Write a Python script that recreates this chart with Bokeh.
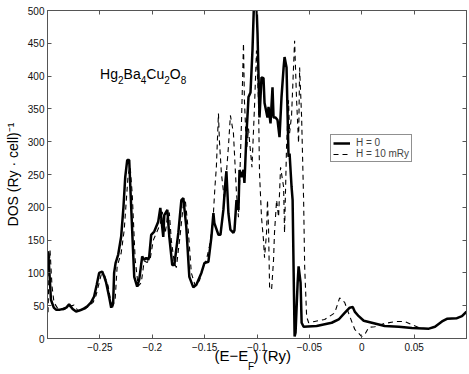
import math
from bokeh.plotting import figure
from bokeh.models import (Range1d, LinearAxis, FixedTicker, Label, Legend,
                          LegendItem, CustomJSTickFormatter)
from bokeh.embed import file_html
from bokeh.resources import INLINE

# ---------------- data ----------------
e_h0 = [-0.3000, -0.2993, -0.2967, -0.2940, -0.2919, -0.2880, -0.2852, -0.2820, -0.2794, -0.2760,
        -0.2727, -0.2690, -0.2660, -0.2620, -0.2584, -0.2555, -0.2530, -0.2507, -0.2478, -0.2460,
        -0.2440, -0.2410, -0.2392, -0.2373, -0.2364, -0.2350, -0.2325, -0.2297, -0.2275, -0.2258,
        -0.2239, -0.2220, -0.2201, -0.2185, -0.2172, -0.2144, -0.2124, -0.2096, -0.2077, -0.2057,
        -0.2038, -0.2029, -0.2010, -0.1981, -0.1943, -0.1923, -0.1905, -0.1895, -0.1885, -0.1856,
        -0.1837, -0.1809, -0.1789, -0.1751, -0.1722, -0.1703, -0.1675, -0.1646, -0.1608, -0.1579,
        -0.1531, -0.1502, -0.1464, -0.1435, -0.1416, -0.1407, -0.1368, -0.1349, -0.1321, -0.1301,
        -0.1292, -0.1273, -0.1254, -0.1225, -0.1215, -0.1196, -0.1177, -0.1167, -0.1148, -0.1129,
        -0.1120, -0.1100, -0.1081, -0.1062, -0.1043, -0.1029, -0.1005, -0.0995, -0.0976, -0.0957,
        -0.0938, -0.0928, -0.0900, -0.0890, -0.0871, -0.0852, -0.0842, -0.0823, -0.0804, -0.0785,
        -0.0766, -0.0746, -0.0737, -0.0718, -0.0699, -0.0689, -0.0670, -0.0660, -0.0651, -0.0641,
        -0.0632, -0.0612, -0.0603, -0.0584, -0.0574, -0.0555, -0.0431, -0.0287, -0.0220, -0.0163,
        -0.0115, -0.0086, -0.0067, -0.0029, 0.0019, 0.0096, 0.0220, 0.0354, 0.0478, 0.0641,
        0.0699, 0.0766, 0.0813, 0.0909, 0.0957, 0.1000]
dos_h0 = [128, 133, 59, 47, 44, 44, 45, 47, 52, 45,
          41, 43, 45, 49, 55, 64, 82, 100, 102, 95,
          85, 62, 47, 55, 100, 115, 128, 155, 200, 246,
          272, 272, 200, 140, 94, 79, 90, 125, 120, 123,
          120, 125, 158, 163, 178, 199, 170, 155, 188, 196,
          155, 112, 112, 161, 211, 214, 170, 94, 78, 82,
          100, 115, 117, 155, 191, 176, 158, 158, 196, 240,
          255, 191, 166, 161, 165, 211, 196, 257, 246, 257,
          237, 313, 368, 375, 440, 510, 510, 465, 337, 398,
          397, 359, 337, 353, 328, 383, 337, 337, 333, 307,
          368, 413, 429, 413, 277, 282, 231, 211, 110, 3,
          9, 85, 110, 85, 24, 18, 19, 24, 29, 39,
          47, 48, 41, 34, 27, 24, 19, 18, 16, 15,
          18, 26, 30, 31, 34, 41]

e_h10 = [-0.2995, -0.2986, -0.2976, -0.2957, -0.2938, -0.2900, -0.2842, -0.2785, -0.2746, -0.2708,
         -0.2641, -0.2565, -0.2536, -0.2488, -0.2459, -0.2421, -0.2383, -0.2354, -0.2335, -0.2297,
         -0.2268, -0.2230, -0.2211, -0.2191, -0.2163, -0.2134, -0.2105, -0.2077, -0.2048, -0.2019,
         -0.1990, -0.1962, -0.1923, -0.1904, -0.1876, -0.1856, -0.1837, -0.1818, -0.1789, -0.1770,
         -0.1732, -0.1703, -0.1684, -0.1656, -0.1627, -0.1589, -0.1550, -0.1512, -0.1483, -0.1455,
         -0.1435, -0.1416, -0.1402, -0.1388, -0.1368, -0.1359, -0.1340, -0.1311, -0.1292, -0.1273,
         -0.1254, -0.1225, -0.1215, -0.1196, -0.1177, -0.1167, -0.1148, -0.1129, -0.1120, -0.1100,
         -0.1081, -0.1072, -0.1048, -0.1024, -0.1005, -0.0986, -0.0976, -0.0957, -0.0938, -0.0928,
         -0.0909, -0.0900, -0.0890, -0.0880, -0.0861, -0.0842, -0.0833, -0.0813, -0.0794, -0.0775,
         -0.0746, -0.0737, -0.0718, -0.0699, -0.0689, -0.0670, -0.0641, -0.0622, -0.0603, -0.0593,
         -0.0574, -0.0555, -0.0545, -0.0526, -0.0507, -0.0450, -0.0354, -0.0258, -0.0211, -0.0163,
         -0.0115, -0.0067, 0.0000, 0.0029, 0.0067, 0.0124, 0.0220, 0.0335, 0.0411, 0.0478,
         0.0555, 0.0641, 0.0699, 0.0766, 0.0813, 0.0909, 0.0957, 0.1000]
dos_h10 = [40, 100, 135, 80, 55, 45, 44, 49, 51, 42,
           45, 55, 66, 97, 98, 80, 45, 60, 110, 130,
           165, 250, 262, 220, 120, 80, 85, 118, 116, 122,
           150, 160, 175, 193, 160, 185, 192, 150, 115, 108,
           160, 205, 210, 165, 100, 80, 88, 110, 120, 140,
           161, 191, 230, 261, 343, 302, 252, 211, 252, 292,
           340, 313, 282, 222, 185, 231, 330, 450, 363, 287,
           320, 302, 261, 353, 439, 363, 252, 185, 150, 123,
           161, 211, 170, 79, 74, 120, 161, 211, 185, 261,
           231, 161, 292, 363, 313, 340, 454, 363, 298, 413,
           337, 211, 110, 33, 24, 26, 29, 39, 62, 55,
           34, 14, 3, 6, 17, 18, 23, 26, 26, 21,
           16, 15, 18, 26, 30, 31, 34, 41]

x_ticks = [-0.25, -0.2, -0.15, -0.1, -0.05, 0, 0.05]
x_tick_labels = ["\u22120.25", "\u22120.2", "\u22120.15", "\u22120.1", "\u22120.05", "0", "0.05"]
y_ticks = [0, 50, 100, 150, 200, 250, 300, 350, 400, 450, 500]
series_labels = ["H = 0", "H = 10 mRy"]
y_title = "DOS (Ry \u00b7 cell)\u207b\u00b9"
x_title_parts = ["(E\u2212E", "F", ") (Ry)"]

FONT = "Liberation Sans"
AX = "#555555"
W, H = 469, 374

p = figure(width=W, height=H, output_backend="svg", toolbar_location=None,
           x_range=Range1d(-0.3, 0.1), y_range=Range1d(0, 500),
           x_axis_location=None, y_axis_location=None,
           min_border_left=47, min_border_right=3, min_border_top=10, min_border_bottom=35)
p.xgrid.visible = False
p.ygrid.visible = False
p.outline_line_color = AX
p.outline_line_width = 1
p.background_fill_color = "white"
p.border_fill_color = "white"

blank = CustomJSTickFormatter(code="return ''")

def make_axis(ticks, show):
    ax = LinearAxis(ticker=FixedTicker(ticks=ticks, minor_ticks=[]),
                    major_tick_in=4, major_tick_out=0,
                    minor_tick_line_color=None,
                    axis_line_color=AX, major_tick_line_color=AX,
                    major_label_text_font=FONT,
                    major_label_text_color="#111111")
    if show:
        ax.major_label_text_font_size = "10px"
    else:
        ax.formatter = blank
        ax.major_label_text_font_size = "0px"
        ax.major_label_standoff = 0
    return ax

xb = make_axis(x_ticks, True)
xb.major_label_overrides = dict(zip(x_ticks, x_tick_labels))
xb.major_label_standoff = 4
p.add_layout(xb, "below")

yl = make_axis(y_ticks, True)
yl.major_label_standoff = 3
yl.axis_label = y_title
yl.axis_label_text_font = FONT
yl.axis_label_text_font_size = "14px"
yl.axis_label_text_font_style = "normal"
yl.axis_label_text_color = "black"
yl.axis_label_standoff = 4
p.add_layout(yl, "left")
p.add_layout(make_axis(x_ticks, False), "above")
p.add_layout(make_axis(y_ticks, False), "right")

# x-axis title built from text-only axes (keeps the subscript F as real text)
def text_axis(positions, texts, size, standoff):
    ax = LinearAxis(ticker=FixedTicker(ticks=positions, minor_ticks=[]),
                    major_tick_in=0, major_tick_out=0,
                    axis_line_color=None, major_tick_line_color=None,
                    minor_tick_line_color=None,
                    major_label_text_font=FONT, major_label_text_font_size=size,
                    major_label_text_color="black", major_label_standoff=standoff)
    ax.major_label_overrides = dict(zip(positions, texts))
    return ax

# centres of the title pieces, in axis units
pos_main = [-0.1244, -0.0854]
pos_sub = [-0.1057]
p.add_layout(text_axis(pos_main, [x_title_parts[0], x_title_parts[2]], "15px", -7), "below")
p.add_layout(text_axis(pos_sub, [x_title_parts[1]], "10px", -6), "below")

r2 = p.line(e_h10, dos_h10, line_color="black", line_width=1.1, line_dash="5 4")
r1 = p.line(e_h0, dos_h0, line_color="black", line_width=2.5)

legend = Legend(items=[LegendItem(label=series_labels[0], renderers=[r1]),
                       LegendItem(label=series_labels[1], renderers=[r2])],
                location=(283, 176), padding=2, spacing=0, margin=0,
                glyph_width=17, glyph_height=8, label_height=8, label_standoff=6,
                label_text_font=FONT, label_text_font_size="10px",
                border_line_color="#222222", border_line_width=1,
                background_fill_color="white", background_fill_alpha=1.0)
p.add_layout(legend)

def lab(x, y, txt, size, xo=0, yo=0):
    p.add_layout(Label(x=x, y=y, x_offset=xo, y_offset=yo,
                       text=txt, text_font=FONT, text_font_size=size,
                       text_color="black", text_align="left",
                       text_baseline="alphabetic"))

# compound name inside the plot
tx, ty = -0.2498, 403
for txt, size, adv, dy in [("Hg", "14px", 0, 0), ("2", "10px", 17.9, -6),
                           ("Ba", "14px", 23.5, 0), ("4", "10px", 40.6, -6),
                           ("Cu", "14px", 46.2, 0), ("2", "10px", 64.1, -6),
                           ("O", "14px", 69.7, 0), ("8", "10px", 80.6, -6)]:
    lab(tx, ty, txt, size, xo=adv, yo=dy)

open("out.html", "w").write(file_html(p, INLINE))
